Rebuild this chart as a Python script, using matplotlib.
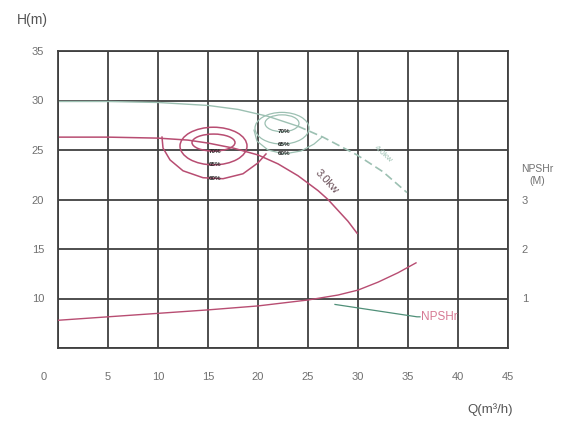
import matplotlib.pyplot as plt
import matplotlib.transforms as mtransforms
from matplotlib.patches import Ellipse

plt.rcParams["font.family"] = ["Liberation Sans", "DejaVu Sans"]

# Flow (m3/h) and head (m) for the two impeller curves
q_30kw = [0, 5, 10, 13, 15, 17.5, 20, 22, 24, 26, 27, 28, 29, 29.9]
h_30kw = [26.3, 26.3, 26.2, 26.0, 25.7, 25.2, 24.5, 23.6, 22.4, 20.9, 20.0, 18.9, 17.8, 16.6]

q_40kw = [0, 5, 10, 15, 18, 21, 24, 26.5, 29.9, 32.5, 34.9]
h_40kw = [29.9, 29.9, 29.8, 29.5, 29.1, 28.4, 27.4, 26.3, 24.5, 22.8, 20.7]

# NPSHr (m) against flow
q_npsh = [0, 5, 10, 15, 20, 25, 28, 30, 32, 34, 35.8]
npshr = [0.56, 0.63, 0.70, 0.77, 0.85, 0.97, 1.07, 1.17, 1.33, 1.52, 1.72]

# efficiency islands: centre Q, centre H, half width, half height
eff_labels = ["70%", "65%", "60%"]
red_eff_q = [15.55, 15.55]
red_eff_h = [25.75, 25.4]
red_eff_w = [2.15, 3.35]
red_eff_v = [0.86, 1.9]
red_open_q = [10.4, 10.5, 11.2, 12.5, 14.5, 16.5, 18.5, 20.0, 20.8]
red_open_h = [26.3, 25.2, 24.0, 22.9, 22.2, 22.1, 22.6, 23.7, 24.6]

grn_eff_q = [22.4, 22.4]
grn_eff_h = [27.7, 27.2]
grn_eff_w = [1.7, 2.7]
grn_eff_v = [0.85, 1.6]
grn_open_q = [19.6, 19.9, 21.0, 22.6, 24.3, 25.6, 26.4]
grn_open_h = [27.0, 25.9, 25.0, 24.6, 24.9, 25.6, 26.3]

x_ticks = list(range(0, 50, 5))
y_ticks = list(range(5, 40, 5))
npsh_ticks = [1, 2, 3]

red = "#b84d72"
green = "#9cc0b2"
grid_c = "#404040"
txt_c = "#707070"

fig = plt.figure(figsize=(5.61, 4.25), dpi=100)
ax = fig.add_axes([58 / 561, 1 - 348 / 425, 450 / 561, 297 / 425])
ax.set_xlim(0, 45)
ax.set_ylim(5, 35)
ax.set_xticks(x_ticks)
ax.set_yticks(y_ticks)
ax.set_yticklabels(["" if v == 5 else str(v) for v in y_ticks])
ax.grid(True, color=grid_c, lw=1.3)
ax.set_axisbelow(True)
for s in ax.spines.values():
    s.set_color(grid_c)
    s.set_linewidth(1.3)
ax.tick_params(axis="x", length=0, pad=17, labelsize=8, colors=txt_c)
ax.tick_params(axis="y", length=0, pad=10, labelsize=8, colors=txt_c)

# the origin label sits a little left of the corner
lab0 = ax.get_xticklabels()[0]
lab0.set_transform(lab0.get_transform()
                   + mtransforms.ScaledTranslation(-0.14, 0, fig.dpi_scale_trans))

# head curves
ax.plot(q_30kw, h_30kw, color=red, lw=1.1)
ax.plot(q_40kw[:7], h_40kw[:7], color=green, lw=1.0)
ax.plot(q_40kw[6:], h_40kw[6:], color=green, lw=1.2, ls=(0, (5, 2.5)))

# efficiency islands
for i in range(2):
    ax.add_patch(Ellipse((red_eff_q[i], red_eff_h[i]), 2 * red_eff_w[i], 2 * red_eff_v[i],
                         fill=False, ec=red, lw=1.1))
    ax.add_patch(Ellipse((grn_eff_q[i], grn_eff_h[i]), 2 * grn_eff_w[i], 2 * grn_eff_v[i],
                         fill=False, ec=green, lw=0.9))
ax.plot(red_open_q, red_open_h, color=red, lw=1.1)
ax.plot(grn_open_q, grn_open_h, color=green, lw=0.9)

red_lab_h = [red_eff_h[0] - red_eff_v[0], red_eff_h[1] - red_eff_v[1], min(red_open_h)]
grn_lab_h = [grn_eff_h[0] - grn_eff_v[0], grn_eff_h[1] - grn_eff_v[1], min(grn_open_h)]
for lab, rh, gh in zip(eff_labels, red_lab_h, grn_lab_h):
    ax.text(15.7, rh, lab, fontsize=4.5, weight="bold", color="#222", ha="center", va="center")
    ax.text(22.6, gh, lab, fontsize=4.5, weight="bold", color="#222", ha="center", va="center")

ax.text(26.9, 21.8, "3.0kw", fontsize=8, color="#6a4f58", rotation=-47,
        ha="center", va="center", rotation_mode="anchor")
ax.text(32.5, 24.6, "4.0kw", fontsize=6, color=green, rotation=-42,
        ha="center", va="center", rotation_mode="anchor")

# NPSHr on the right-hand scale
ax2 = ax.twinx()
ax2.set_ylim(0, 6)
ax2.set_yticks(npsh_ticks)
ax2.tick_params(axis="y", length=0, pad=10, labelsize=8, colors=txt_c)
for s in ax2.spines.values():
    s.set_visible(False)
ax2.plot(q_npsh, npshr, color=red, lw=1.0)
ax2.plot([27.7, 35.9, 36.2], [0.88, 0.63, 0.63], color="#4f8f78", lw=0.9)
ax2.text(36.3, 0.63, "NPSHr", fontsize=8.5, color="#d67a94", va="center", ha="left")

fig.text(32 / 561, 1 - 20 / 425, "H(m)", fontsize=10, color="#555", ha="center", va="center")
fig.text(490 / 561, 1 - 410 / 425, "Q(m³/h)", fontsize=9.5, color="#555", ha="center", va="center")
fig.text(537 / 561, 1 - 175 / 425, "NPSHr\n(M)", fontsize=7.5, color=txt_c,
         ha="center", va="center", linespacing=1.2)

fig.savefig("out.png", dpi=100)
